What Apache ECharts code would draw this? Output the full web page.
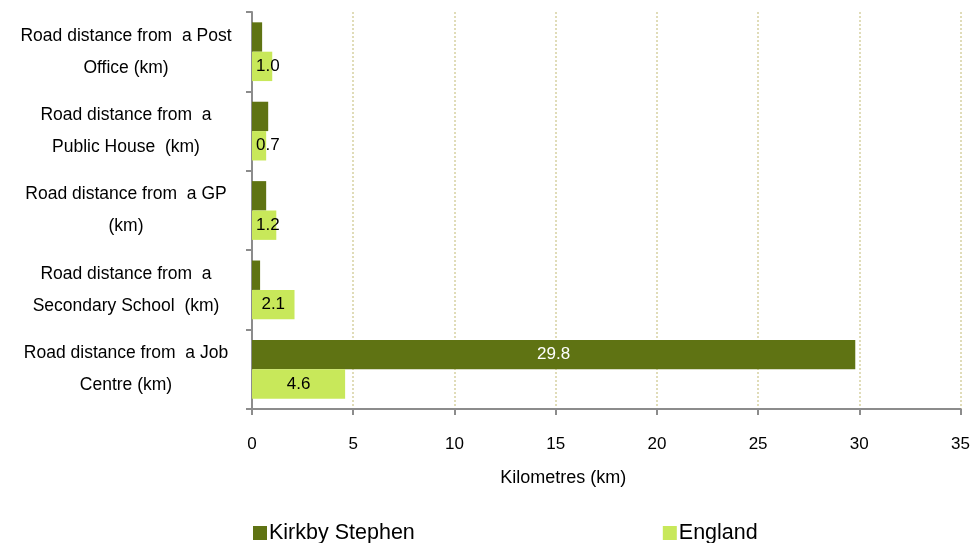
<!DOCTYPE html>
<html>
<head>
<meta charset="utf-8">
<script src="https://cdn.jsdelivr.net/npm/echarts@6/dist/echarts.min.js"></script>
<style>html,body{margin:0;padding:0;background:#fff}#c{width:973px;height:543px}</style>
</head>
<body>
<div id="c"></div>
<script>
const categories = [
  "Road distance from  a Post\nOffice (km)",
  "Road distance from  a\nPublic House  (km)",
  "Road distance from  a GP\n(km)",
  "Road distance from  a\nSecondary School  (km)",
  "Road distance from  a Job\nCentre (km)"
];
const kirkbyStephen = [0.5, 0.8, 0.7, 0.4, 29.8];
const england = [1.0, 0.7, 1.2, 2.1, 4.6];
const xTicks = [0, 5, 10, 15, 20, 25, 30, 35];

const font = "'Liberation Sans', Arial, sans-serif";
const chart = echarts.init(document.getElementById('c'), null, {renderer: 'canvas'});
chart.setOption({
  animation: false,
  textStyle: {fontFamily: font},
  grid: {left: 252, right: 9, top: 12, bottom: 134},
  legend: {
    data: ['Kirkby Stephen', 'England'],
    left: 248, bottom: -6,
    itemWidth: 14, itemHeight: 14, itemGap: 248,
    icon: 'rect',
    textStyle: {fontSize: 21.5, color: '#000', fontFamily: font, padding: [0, 0, 0, -3]}
  },
  xAxis: {
    type: 'value', min: xTicks[0], max: xTicks[xTicks.length - 1], interval: 5,
    name: 'Kilometres (km)', nameLocation: 'middle', nameGap: 60,
    nameTextStyle: {fontSize: 18, color: '#000', fontFamily: font, padding: [0, 86, 0, 0]},
    axisLine: {show: true, lineStyle: {color: '#8c8c8c', width: 2}},
    axisTick: {show: true, length: 6, lineStyle: {color: '#8c8c8c', width: 2}},
    axisLabel: {fontSize: 17, color: '#000', margin: 27, fontFamily: font},
    splitLine: {show: true, lineStyle: {color: '#e0dcb8', type: 'dotted', width: 2}}
  },
  yAxis: {
    type: 'category', data: categories, inverse: true,
    axisLine: {show: true, lineStyle: {color: '#8c8c8c', width: 2}},
    axisTick: {show: true, length: 6, lineStyle: {color: '#8c8c8c', width: 2}},
    axisLabel: {fontSize: 17.5, color: '#000', align: 'center', margin: 126, lineHeight: 32, fontFamily: font}
  },
  series: [
    {
      name: 'Kirkby Stephen', type: 'bar', barGap: '0%', barCategoryGap: '26%',
      itemStyle: {color: '#5f7313'},
      data: kirkbyStephen,
      label: {
        show: true, position: 'inside', color: '#fff', fontSize: 17, fontFamily: font,
        formatter: p => p.value >= 5 ? p.value.toFixed(1) : ''
      }
    },
    {
      name: 'England', type: 'bar', barGap: '0%', barCategoryGap: '26%',
      itemStyle: {color: '#c8e85a'},
      data: england.map(v => ({value: v, label: {position: v < 1.5 ? 'insideLeft' : 'inside', distance: 4}})),
      label: {
        show: true, color: '#000', fontSize: 17, fontFamily: font,
        formatter: p => p.value.toFixed(1)
      }
    }
  ]
});
</script>
</body>
</html>
